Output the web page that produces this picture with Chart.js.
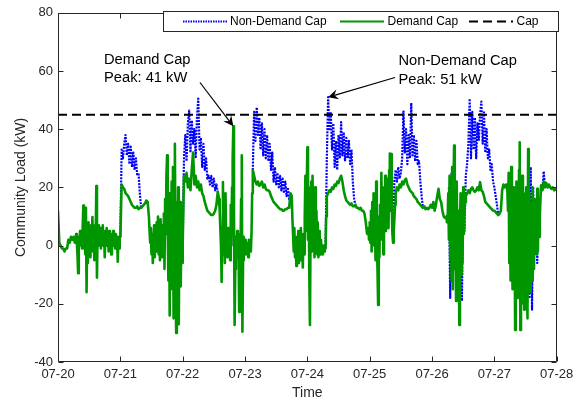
<!DOCTYPE html>
<html>
<head>
<meta charset="utf-8">
<script src="https://cdn.jsdelivr.net/npm/chart.js@4.4.1/dist/chart.umd.min.js"></script>
<style>
  html, body { margin: 0; padding: 0; background: #ffffff; }
  #wrap { width: 584px; height: 403px; }
</style>
</head>
<body>
<div id="wrap"><canvas id="load" width="584" height="403"></canvas></div>
<script>
// Community load, one value every 30 minutes (kW), with the demand cap applied.
const STEP_HOURS = 0.5;
const dayLabels = ['07-20', '07-21', '07-22', '07-23', '07-24', '07-25', '07-26', '07-27', '07-28'];
const yTicks = [-40, -20, 0, 20, 40, 60, 80];

const load0720 = [12, 1, 0, -1, -1, -2, -1, -1, 2, 1, 3, 2, 3, 1, 4, -9, 2, 5, 1, 3, 14, -2, 13, -16,
  8, -3, 6, 10, -4, 8, 20.5, -11, 6, 0, 7, 2, 5, -4, 6, 1, 4, 0, 5, 1, 3, -1, 2, -5];
const load0721 = [3, 21, 20, 19.5, 18, 17.5, 17, 16, 15, 14, 13.5, 13, 13, 13.5, 12.5, 13,
  13, 13.5, 14, 14.5, 15.5, 15, 10, 3, -2, 6, -6, 4, -3, 8, 0, 9,
  -5, 2, 10, -8, 31, -3, 18, -22, 25, -25, 35, -30, 20, -27, 15, -5];
const load0722 = [0, 24, 22, 25, 20, 23, 19, 26, 32, 21, 24, 20, 22, 19, 21, 18,
  17, 15, 13.5, 12, 11.5, 11, 10.5, 10.5, 11, 12, 14, 18.5, 16, 8, -2, 21.5,
  -12, 4, -1, 5, -3, 2, 20, 41, -27, 2, -4, 3, 5, -5, 31, -29.5];
const load0723 = [2, -3, 1, -2, 0, 3, 26, 24, 22, 21, 22, 20.5, 21, 22, 20, 21,
  19.5, 19, 19, 18.5, 17, 16, 15, 14.5, 14, 13.5, 13, 12.5, 12.5, 12, 12, 12.5,
  12.5, 13, 13, 18, 17, 6, -2, 2, -6, 3, 0, 4, -6, 5, -4, 22];
const load0724 = [33.5, -5, -27, 20, 2, 24, -3, 15, -1, 8, -3, 2, -2, 0, -1, 17,
  18, 19, 18.5, 20, 19.5, 21, 20.5, 22, 21.5, 23, 24, 22, 19, 17, 15.5, 15,
  14.5, 14, 14.5, 13.5, 13.5, 14, 13, 13, 12.5, 13, 12, 12, 11, 8, 4, 6];
const load0725 = [3, 12, 0, 18, 5, 14, -8, -20.5, 12, -2, 16, 4, 20, 6, 23, 8,
  31.5, 14, 1, 9, 18, 20, 19, 21, 20, 22, 21, 22.5, 23, 21, 20, 19,
  18.5, 18, 17, 16.5, 16, 15, 14.5, 14, 13.5, 13, 13.5, 12.5, 13, 12.5, 13, 14];
const load0726 = [13, 15, 12, 14, 17, 19.5, 16, 15, 12, 10, 9.5, 10, 8, 20, -5, 25,
  -15, 34.4, -10, 22, -19, -27.3, 15, -12, 18, 5, 17, 18, 19, 18, 19.5, 20,
  19, 18.5, 19, 20, 19, 21.8, 19, 18.5, 17, 15, 14.5, 14, 13.5, 13, 12.5, 12];
const load0727 = [12, 11.5, 11, 10.5, 11, 12, 19, 21, 20, 21, 19, 10, -8, 14, -15, 20,
  -29, 10, -20, 35.5, -29, 12, -22, 18, -10, -25, 33, -18, 15, -12, 20, -8,
  12, -5, 14, 3, 20.7, 19, 22, 20, 21.5, 20, 21, 20, 19.5, 20, 19, 19.5, 19];

// Volatile stretches logged every 15 minutes; these replace the half-hourly values.
const FINE_STEP_HOURS = 0.25;
const fineStartHours = [7, 35, 62, 90, 119.5, 149.5, 173];
const fine0720 = [4, 1, -3, -9.5, 3, 0, 5, 2, 4, -1, 6, 13.8, 2, 9, -3, 13,
  -16, 6, -6, 8, 0, 7, -4, 5, 2, 9.8, -2, 7, -5, 6, 1, 20.5,
  -11, 5, 0, 7, 2, 6, -1, 5, 1, 7, 0, 4, -4, 5, 1, 6,
  0, 4, -2, 5, 1, 3, -3, 4, 2, 5, 0, 3, -1, 4, 1, 3,
  -5.5, 2, -1, 3, 3];
const fine0721 = [10, 5, 1, 6, -3, 4, -6, 2, 7, -4, 3, -2, 8, 0, 10, -3,
  6, -5, 9, 1, -4, 7, 2, 11, -8, 16, 4, 24, 31, 6, -12, 18,
  -24, 10, -15, 22, -6, 27, -25, 12, 35, -10, -30, 15, -22, 20, -27, 8,
  15, -14, 5, -6, 0];
const fine0722 = [16, 12, 6, 0, -12.5, 4, 21.8, -3, 8, -6, 18, -1, 3, -4, 6, -2,
  2, -5, 14, 0, 20, 30, 41, 12, -27.3, -8, 3, -2, 5, -4, 2, -22.8,
  4, -3, 16, 31, -29.6, -5, 3, -2, 2, -3, 1, -2, 0, -4, 2, -1,
  1, -2, 4, 18, 26];
const fine0723 = [17, 9, 4, -2, 6, -4, 3, -7, 2, -3, 5, -6, 1, -5, 6, -2,
  3, -7.5, 4, -3, 10, 24, 5, 18, 33.8, 2, 20, -10, -27.3, 8, 22, -2,
  24, 4, 16, -4, 20, 0, 12, -3, 8, -4, 5, 1, -3, 2, -2, 0,
  -3, -1, -2, 0, -1, 10, 17];
const fine0725 = [6, 2, 8, 1, 12, -2, 15, 3, 18, 0, 10, -5, 22, 4, -8, -20.4,
  10, -4, 14, 2, 25, 6, 16, -3, 20, 8, 24, 5, 18, 10, 23, 6,
  26, 31.6, 12, 31.5, 14, 4, 1, 5, 9, 14, 18];
const fine0726 = [10, 8, 9, 18, 2, 24, -5, 14, -12, 27, -15, 20, 34.4, -8, 16, -19,
  22, 2, -14, 12, -27.3, 6, 18, -10, 14, -6, 20, 4, 12, 15, 17];
const fine0727 = [19, 12, 25, -6, 14, -12, 27, 2, -15, 20, -4, 16, -29, 8, 22, -18,
  12, -8, 26, 35.5, -29, 10, -20, 24, -6, 18, -22, 14, -10, 20, 4, -25,
  33.2, -5, 18, -16, 15, 2, -12, 20, 5, -8, 16, 0, 12, -3, 19.5, -2,
  14, 3, 10, 16, 20.7, 19, 19];

// Without the cap the daytime peaks run higher; the load is otherwise the same.
const nonDemandStartHours = [24.5, 48.5, 75.5, 103.5, 129.5, 157];
const nonDemand0721 = [33, 30, 35, 38, 31, 35, 28, 34, 27, 32, 26, 30, 24, 25, 18];
const nonDemand0722 = [30, 38, 29, 42, 46.4, 32, 43, 35, 40, 30, 44, 50.5, 33, 37, 27, 35,
  26, 30, 23, 24, 21, 24, 20, 23, 19, 21];
const nonDemand0723 = [46, 36, 47.5, 38, 44, 33, 42, 31, 40, 30, 38, 29, 35, 26, 32, 22,
  27, 21, 25, 20, 24, 19, 23, 18, 22, 17, 20, 16];
const nonDemand0724 = [30, 51, 40, 46, 33, 42, 27, 36, 26, 38, 30, 42.4, 31, 39, 29, 37,
  30, 36, 28, 33, 22, 16];
const nonDemand0725 = [22, 26, 22, 27, 23, 25, 30, 46.4, 32, 40, 28, 38, 30, 49, 31, 38,
  29, 36, 28, 29, 22, 17];
const nonDemand0726 = [24, 28, 35, 50.5, 30, 46, 33, 44, 30, 42, 36, 45, 49.5, 35, 45.8, 32,
  40, 30, 33, 26, 28, 22, 20, 17, 14];
const nonDemandDipHours = [151, 155.5, 182, 182.5, 184.5, 187];
const nonDemandDipKw = [-18, -19, 27, -22, -6, 25.5];

const CAP_KW = 45;
const peakHours = [67.5, 104];   // demand-cap peak, non-demand-cap peak
const peakKw = [41, 51];

// ---- assemble the series ----
const demandLoad = [].concat(load0720, load0721, load0722, load0723,
  load0724, load0725, load0726, load0727);
const fineSpans = [fine0720, fine0721, fine0722, fine0723, fine0725, fine0726, fine0727];
const nonDemandSpans = [nonDemand0721, nonDemand0722, nonDemand0723,
  nonDemand0724, nonDemand0725, nonDemand0726];

const fineWindows = fineSpans.map((vals, k) => [fineStartHours[k],
  fineStartHours[k] + (vals.length - 1) * FINE_STEP_HOURS]);
const inFine = h => fineWindows.some(([a, b]) => h >= a && h <= b);

const demandPoints = demandLoad
  .map((v, i) => ({ x: i * STEP_HOURS, y: v }))
  .filter(p => !inFine(p.x));
fineSpans.forEach((vals, k) => vals.forEach((v, j) =>
  demandPoints.push({ x: fineStartHours[k] + j * FINE_STEP_HOURS, y: v })));
demandPoints.sort((p, q) => p.x - q.x);

const nonDemandLoad = demandLoad.slice();
const differs = demandLoad.map(() => false);
nonDemandSpans.forEach((vals, k) => {
  const i0 = Math.round(nonDemandStartHours[k] / STEP_HOURS);
  vals.forEach((v, j) => { nonDemandLoad[i0 + j] = v; differs[i0 + j] = true; });
});
nonDemandDipHours.forEach((h, k) => {
  const i = Math.round(h / STEP_HOURS);
  nonDemandLoad[i] = nonDemandDipKw[k];
  differs[i] = true;
});
// where both runs coincide the green trace covers the blue one, so keep the blue
// trace only around the stretches where it differs
const nonDemandPoints = nonDemandLoad.map((v, i) => {
  const near = differs[i] || differs[i - 1] || differs[i + 1];
  return { x: i * STEP_HOURS, y: near ? v : null };
});
const lastHour = (demandLoad.length - 1) * STEP_HOURS;

const INK = '#262626';
const FONT = '"Liberation Sans", Arial, Helvetica, sans-serif';
const BLUE = '#0000ff';
const GREEN = '#009600';

// Axes box with inward ticks, legend and the two peak call-outs
const figureDecor = {
  id: 'figureDecor',
  afterDraw(chart) {
    const { ctx, chartArea: a, scales } = chart;
    const xs = scales.x, ys = scales.y;
    const L = Math.round(a.left) + 0.5, R = Math.round(a.right) - 0.5;
    const T = Math.round(a.top) + 0.5, B = Math.round(a.bottom) - 0.5;
    ctx.save();
    ctx.strokeStyle = INK;
    ctx.lineWidth = 1;
    ctx.setLineDash([]);
    ctx.beginPath();
    ctx.rect(L, T, R - L, B - T);
    const tk = 5;
    yTicks.forEach(v => {
      const p = Math.round(ys.getPixelForValue(v)) + 0.5;
      ctx.moveTo(L, p); ctx.lineTo(L + tk, p);
      ctx.moveTo(R, p); ctx.lineTo(R - tk, p);
    });
    dayLabels.forEach((_, i) => {
      const p = Math.round(xs.getPixelForValue(i * 24)) + 0.5;
      ctx.moveTo(p, B); ctx.lineTo(p, B - tk);
      ctx.moveTo(p, T); ctx.lineTo(p, T + tk);
    });
    ctx.stroke();

    // legend
    const lx = 163.5, ly = 11.5, lw = 395, lh = 20, cy = 21.5;
    ctx.fillStyle = '#ffffff';
    ctx.fillRect(lx, ly, lw, lh);
    ctx.strokeStyle = INK;
    ctx.strokeRect(lx, ly, lw, lh);

    ctx.lineCap = 'butt';
    ctx.strokeStyle = BLUE; ctx.lineWidth = 2; ctx.setLineDash([1.5, 1]);
    ctx.beginPath(); ctx.moveTo(183, cy); ctx.lineTo(227, cy); ctx.stroke();
    ctx.strokeStyle = GREEN; ctx.lineWidth = 2; ctx.setLineDash([]);
    ctx.beginPath(); ctx.moveTo(340, cy); ctx.lineTo(384, cy); ctx.stroke();
    ctx.strokeStyle = '#000000'; ctx.lineWidth = 2; ctx.setLineDash([9, 5]);
    ctx.beginPath(); ctx.moveTo(469, cy); ctx.lineTo(513, cy); ctx.stroke();
    ctx.setLineDash([]);

    ctx.fillStyle = '#000000';
    ctx.font = '12px ' + FONT;
    ctx.textBaseline = 'middle';
    ctx.textAlign = 'left';
    ctx.fillText('Non-Demand Cap', 230, cy + 0.5);
    ctx.fillText('Demand Cap', 387.5, cy + 0.5);
    ctx.fillText('Cap', 516.5, cy + 0.5);

    // peak call-outs
    ctx.font = '14.7px ' + FONT;
    ctx.textBaseline = 'alphabetic';
    ctx.fillText('Demand Cap', 104, 63.5);
    ctx.fillText('Peak: ' + peakKw[0] + ' kW', 104, 82);
    ctx.fillText('Non-Demand Cap', 398.5, 64.5);
    ctx.fillText('Peak: ' + peakKw[1] + ' kW', 398.5, 83.5);

    const arrow = (x0, y0, x1, y1) => {
      const dx = x1 - x0, dy = y1 - y0, len = Math.hypot(dx, dy);
      const ux = dx / len, uy = dy / len, nx = -uy, ny = ux;
      const hl = 10, hw = 5, notch = 6.5;
      ctx.strokeStyle = '#000000'; ctx.lineWidth = 1.2;
      ctx.beginPath(); ctx.moveTo(x0, y0);
      ctx.lineTo(x1 - ux * notch, y1 - uy * notch); ctx.stroke();
      ctx.fillStyle = '#000000';
      ctx.beginPath();
      ctx.moveTo(x1, y1);
      ctx.lineTo(x1 - ux * hl + nx * hw, y1 - uy * hl + ny * hw);
      ctx.lineTo(x1 - ux * notch, y1 - uy * notch);
      ctx.lineTo(x1 - ux * hl - nx * hw, y1 - uy * hl - ny * hw);
      ctx.closePath(); ctx.fill();
    };
    arrow(200, 82.5, xs.getPixelForValue(peakHours[0]), ys.getPixelForValue(peakKw[0]));
    arrow(395, 77.5, xs.getPixelForValue(peakHours[1]), ys.getPixelForValue(peakKw[1]));
    ctx.restore();
  }
};

new Chart(document.getElementById('load'), {
  type: 'line',
  data: {
    datasets: [
      {
        label: 'Non-Demand Cap', data: nonDemandPoints, order: 3,
        borderColor: BLUE, borderWidth: 2.2, borderDash: [2, 1.2],
        spanGaps: false, fill: false
      },
      {
        label: 'Demand Cap', data: demandPoints, order: 2,
        borderColor: GREEN, borderWidth: 2.6, fill: false
      },
      {
        label: 'Cap', data: [{ x: 0, y: CAP_KW }, { x: lastHour, y: CAP_KW }], order: 1,
        borderColor: '#000000', borderWidth: 2, borderDash: [9, 5], fill: false
      }
    ]
  },
  options: {
    responsive: false,
    animation: false,
    devicePixelRatio: 1,
    parsing: false,
    normalized: true,
    layout: { padding: { left: 0, right: 27.3, top: 12, bottom: 0 } },
    elements: {
      point: { radius: 0, hoverRadius: 0 },
      line: { tension: 0, borderJoinStyle: 'round', borderCapStyle: 'butt' }
    },
    plugins: { legend: { display: false }, tooltip: { enabled: false } },
    events: [],
    scales: {
      x: {
        type: 'linear', min: 0, max: lastHour,
        afterFit(s) { s.height = 41; },
        afterBuildTicks(s) { s.ticks = dayLabels.map((_, i) => ({ value: i * 24 })); },
        ticks: {
          callback: v => dayLabels[Math.round(v / 24)],
          autoSkip: false, maxRotation: 0, padding: 5,
          color: INK, font: { family: FONT, size: 13 }
        },
        grid: { display: false, drawTicks: false },
        border: { display: false },
        title: {
          display: true, text: 'Time', color: INK,
          font: { family: FONT, size: 14 }, padding: { top: 0, bottom: 1 }
        }
      },
      y: {
        min: -40, max: 80,
        afterFit(s) { s.width = 58; },
        afterBuildTicks(s) { s.ticks = yTicks.map(v => ({ value: v })); },
        ticks: { padding: 5, color: INK, font: { family: FONT, size: 13 } },
        grid: { display: false, drawTicks: false },
        border: { display: false },
        title: {
          display: true, text: 'Community Load (kW)', color: INK,
          font: { family: FONT, size: 14 }, padding: { top: 12.6, bottom: 0 }
        }
      }
    }
  },
  plugins: [figureDecor]
});
</script>
</body>
</html>
